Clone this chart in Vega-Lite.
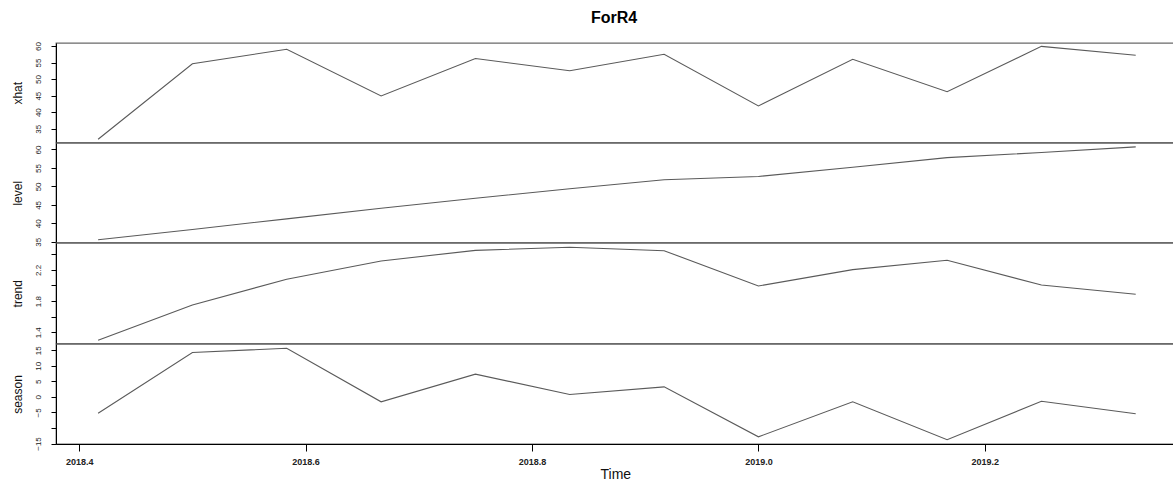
{
  "$schema": "https://vega.github.io/schema/vega-lite/v6.json",
  "autosize": {"type": "none"},
  "padding": {"left": 56, "top": 43, "right": 1117, "bottom": 438},
  "background": "white",
  "title": {
    "text": "ForR4",
    "font": "Liberation Sans",
    "fontSize": 16,
    "fontWeight": "bold",
    "color": "#000",
    "anchor": "start",
    "dx": 535,
    "frame": "group",
    "baseline": "alphabetic",
    "offset": 2
  },
  "datasets": {
    "hw": [
      {"t": 2018.4167, "xhat": 31.8, "level": 35.54, "trend": 1.297, "season": -5.26},
      {"t": 2018.5, "xhat": 54.65, "level": 38.33, "trend": 1.75, "season": 14.26},
      {"t": 2018.5833, "xhat": 59.0, "level": 41.22, "trend": 2.08, "season": 15.64},
      {"t": 2018.6667, "xhat": 44.9, "level": 44.1, "trend": 2.314, "season": -1.6},
      {"t": 2018.75, "xhat": 56.2, "level": 46.8, "trend": 2.451, "season": 7.3},
      {"t": 2018.8333, "xhat": 52.5, "level": 49.35, "trend": 2.49, "season": 0.76},
      {"t": 2018.9167, "xhat": 57.5, "level": 51.8, "trend": 2.446, "season": 3.22},
      {"t": 2019.0, "xhat": 41.9, "level": 52.7, "trend": 1.994, "season": -12.85},
      {"t": 2019.0833, "xhat": 56.0, "level": 55.2, "trend": 2.203, "season": -1.6},
      {"t": 2019.1667, "xhat": 46.2, "level": 57.8, "trend": 2.323, "season": -13.8},
      {"t": 2019.25, "xhat": 59.9, "level": 59.2, "trend": 2.006, "season": -1.4},
      {"t": 2019.3333, "xhat": 57.2, "level": 60.7, "trend": 1.887, "season": -5.46}
    ]
  },
  "data": {"name": "hw"},
  "spacing": 0,
  "bounds": "flush",
  "vconcat": [
    {
      "width": 1125,
      "height": 99.5,
      "mark": {"type": "line", "color": "#5a5a5a", "strokeWidth": 1.1},
      "encoding": {
        "x": {"field": "t", "type": "quantitative", "scale": {"domain": [2018.3795, 2019.3733], "nice": false, "zero": false}, "axis": null},
        "y": {"field": "xhat", "type": "quantitative", "scale": {"domain": [30.83, 60.907], "nice": false, "zero": false},
              "axis": {"title": "xhat", "values": [35, 40, 45, 50, 55, 60], "titleY": 49.75}}
      }
    },
    {
      "width": 1125,
      "height": 99.5,
      "mark": {"type": "line", "color": "#5a5a5a", "strokeWidth": 1.1},
      "encoding": {
        "x": {"field": "t", "type": "quantitative", "scale": {"domain": [2018.3795, 2019.3733], "nice": false, "zero": false}, "axis": null},
        "y": {"field": "level", "type": "quantitative", "scale": {"domain": [34.81, 61.76], "nice": false, "zero": false},
              "axis": {"title": "level", "values": [35, 40, 45, 50, 55, 60], "titleY": 49.75}}
      }
    },
    {
      "width": 1125,
      "height": 100.5,
      "mark": {"type": "line", "color": "#5a5a5a", "strokeWidth": 1.1},
      "encoding": {
        "x": {"field": "t", "type": "quantitative", "scale": {"domain": [2018.3795, 2019.3733], "nice": false, "zero": false}, "axis": null},
        "y": {"field": "trend", "type": "quantitative", "scale": {"domain": [1.256, 2.545], "nice": false, "zero": false},
              "axis": {"title": "trend", "values": [1.4, 1.6, 1.8, 2.0, 2.2, 2.4], "format": ".1f",
                       "labelExpr": "round(datum.value * 10) % 4 == 2 ? datum.label : ''", "titleY": 50.25}}
      }
    },
    {
      "width": 1125,
      "height": 100,
      "mark": {"type": "line", "color": "#5a5a5a", "strokeWidth": 1.1},
      "encoding": {
        "x": {"field": "t", "type": "quantitative", "scale": {"domain": [2018.3795, 2019.3733], "nice": false, "zero": false},
              "axis": {"title": "Time", "values": [2018.4, 2018.6, 2018.8, 2019.0, 2019.2], "format": ".1f",
                       "tickSize": 7, "labelPadding": 6, "labelFontSize": 9, "labelFontWeight": "bold",
                       "titleFontSize": 14, "titleFontWeight": "normal", "titleBaseline": "alphabetic",
                       "titleAnchor": "start", "titleX": 544, "titleY": 34}},
        "y": {"field": "season", "type": "quantitative", "scale": {"domain": [-15.16, 16.99], "nice": false, "zero": false},
              "axis": {"title": "season", "values": [-15, -10, -5, 0, 5, 10, 15],
                       "labelExpr": "datum.value == -10 ? '' : datum.label", "titleY": 50}}
      }
    }
  ],
  "config": {
    "view": {"stroke": "#6a6a6a", "strokeWidth": 1.3},
    "axis": {
      "labelFont": "Liberation Sans",
      "titleFont": "Liberation Sans",
      "labelColor": "#222",
      "titleColor": "#111",
      "domainColor": "#000",
      "tickColor": "#000",
      "grid": false,
      "labelOverlap": false,
      "labelFlush": false
    },
    "axisY": {
      "tickSize": 5,
      "labelFontSize": 8,
      "labelAngle": 270,
      "labelAlign": "center",
      "labelBaseline": "middle",
      "labelPadding": 13,
      "titleFontSize": 12,
      "titleFontWeight": "normal",
      "titleAngle": 270,
      "titleAlign": "center",
      "titleBaseline": "middle",
      "titleX": -39
    }
  }
}
